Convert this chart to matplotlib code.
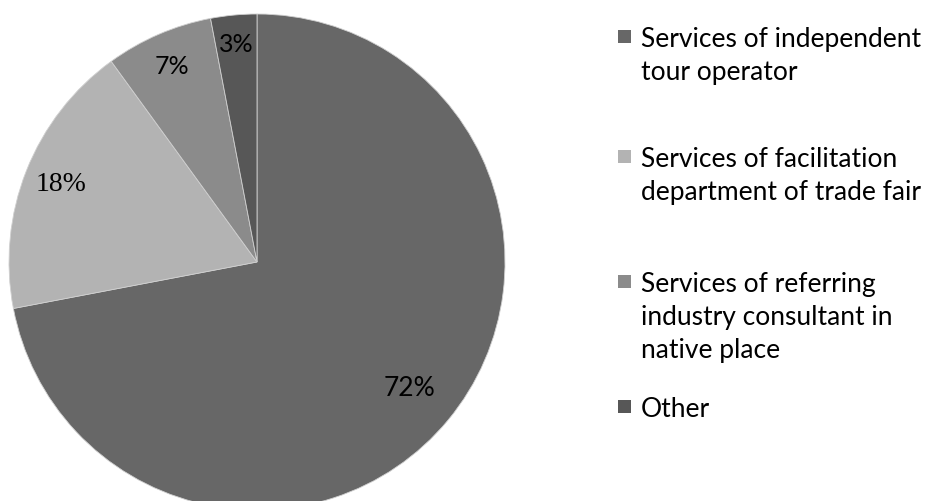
import numpy as np
import matplotlib
matplotlib.use('Agg')
import matplotlib.pyplot as plt
from matplotlib.patches import Rectangle

# share of each type of service (percent)
labels = ['Services of independent\ntour operator',
          'Services of facilitation\ndepartment of trade fair',
          'Services of referring\nindustry consultant in\nnative place',
          'Other']
shares = [72, 18, 7, 3]
pct_text = ['72%', '18%', '7%', '3%']
colors = ['#676767', '#b3b3b3', '#8b8b8b', '#575757']

fig = plt.figure(figsize=(9.34, 5.01), dpi=100)
W, H = 934, 501

# pie: centre at (257, 262) px, radius 248 px
cx, cy, r = 257, 262, 248
ax = fig.add_axes([(cx - r) / W, (H - cy - r) / H, 2 * r / W, 2 * r / H])
wedges, _ = ax.pie(shares, colors=colors, startangle=90, counterclock=False,
                   wedgeprops=dict(edgecolor='#d0d0d0', linewidth=0.6))
ax.set_xlim(-1, 1)
ax.set_ylim(-1, 1)
ax.axis('off')
for w in wedges:
    w.set_clip_on(False)

# label distance from centre (fraction of radius) and fonts
dist = [0.80, 0.85, 0.86, 0.88]
fams = ['Lato', 'Liberation Serif', 'Lato', 'Lato']
sizes = [19, 20, 18, 18]
for w, t, d, f, s in zip(wedges, pct_text, dist, fams, sizes):
    mid = np.deg2rad((w.theta1 + w.theta2) / 2)
    ax.text(d * np.cos(mid), d * np.sin(mid), t, ha='center', va='center',
            fontsize=s, family=f, color='#000000')

# legend drawn by hand to match the spread-out layout
first_base = [47, 167, 292, 417]
line_dy = 33
for lab, col, yb in zip(labels, colors, first_base):
    fig.patches.append(Rectangle((618 / W, 1 - (yb - 4) / H), 13 / W, 13 / H,
                                 transform=fig.transFigure, facecolor=col,
                                 edgecolor='none'))
    for j, line in enumerate(lab.split('\n')):
        fig.text(641 / W, 1 - (yb + j * line_dy) / H, line, ha='left',
                 va='baseline', fontsize=19, family='Lato', color='#000000')

fig.savefig('out.png', dpi=100)
